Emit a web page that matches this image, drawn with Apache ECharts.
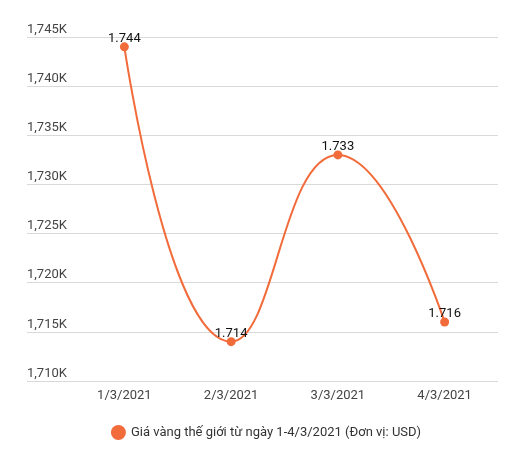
<!DOCTYPE html>
<html>
<head>
<meta charset="utf-8">
<script src="https://cdn.jsdelivr.net/npm/echarts@6/dist/echarts.min.js"></script>
<style>html,body{margin:0;padding:0;background:#fff}#c{width:532px;height:454px}</style>
</head>
<body>
<div id="c"></div>
<script>
var categories = ['1/3/2021', '2/3/2021', '3/3/2021', '4/3/2021'];
var values = [1744, 1714, 1733, 1716];
var seriesName = 'Giá vàng thế giới từ ngày 1-4/3/2021 (Đơn vị: USD)';
var yMin = 1710, yMax = 1745, yStep = 5;

function thousands(v, sep) {
  var s = String(Math.round(v));
  return s.replace(/\B(?=(\d{3})+(?!\d))/g, sep);
}

var chart = echarts.init(document.getElementById('c'));
var font = 'Roboto, "Noto Sans", sans-serif';
chart.setOption({
  animation: false,
  textStyle: { fontFamily: font },
  grid: [
    { left: 27, right: 34, top: 37, bottom: 73 },
    { left: 71, right: 34, top: 37, bottom: 73 }
  ],
  xAxis: [
    { gridIndex: 0, type: 'value', show: false, min: 0, max: 1 },
    {
      gridIndex: 1, type: 'category', data: categories, boundaryGap: true,
      axisLine: { show: false }, axisTick: { show: false },
      axisLabel: { color: '#444', fontSize: 13, margin: 8, fontFamily: font }
    }
  ],
  yAxis: [
    {
      gridIndex: 0, type: 'value', min: yMin, max: yMax, interval: yStep,
      axisLine: { show: false }, axisTick: { show: false },
      splitLine: { lineStyle: { color: '#d9d9d9', width: 1 } },
      axisLabel: {
        inside: true, margin: 0, verticalAlign: 'bottom', padding: [0, 0, 1, 0],
        color: '#444', fontSize: 13, fontFamily: font,
        formatter: function (v) { return thousands(v, ',') + 'K'; }
      }
    },
    { gridIndex: 1, type: 'value', min: yMin, max: yMax, interval: yStep, show: false, splitLine: { show: false } }
  ],
  legend: {
    bottom: 9, left: 'center', icon: 'circle', itemWidth: 15, itemHeight: 15, itemGap: 10,
    textStyle: { color: '#333', fontSize: 13, fontFamily: font },
    data: [seriesName]
  },
  series: [{
    name: seriesName, type: 'line', xAxisIndex: 1, yAxisIndex: 1,
    data: values, smooth: true,
    symbol: 'circle', symbolSize: 9,
    itemStyle: { color: '#F26B3A' },
    lineStyle: { color: '#F26B3A', width: 2 },
    label: {
      show: true, position: 'top', distance: -3, color: '#111', fontSize: 13, fontFamily: font,
      formatter: function (p) { return thousands(p.value, '.'); }
    }
  }]
});
</script>
</body>
</html>
